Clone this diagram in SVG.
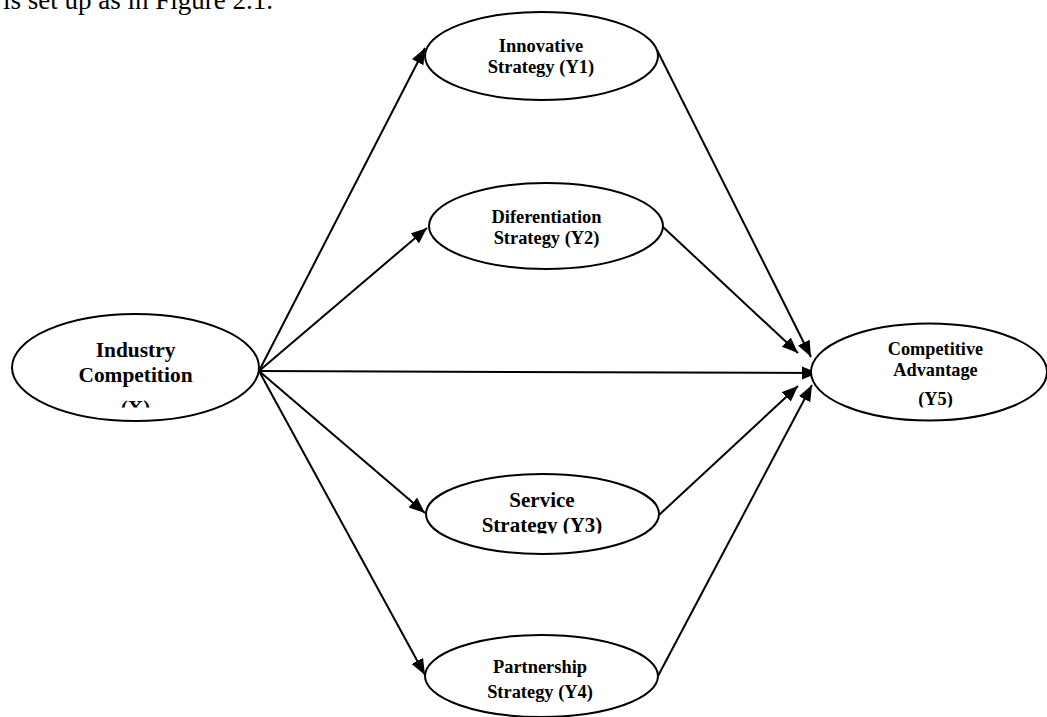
<svg xmlns="http://www.w3.org/2000/svg" width="1047" height="717" viewBox="0 0 1047 717">
<style>
.node ellipse{fill:#fff;stroke:#000;stroke-width:2}
.lbl{font-family:"Liberation Serif","Times New Roman",serif;font-weight:bold;text-anchor:middle;fill:#000}
.conn line{stroke:#000;stroke-width:2;marker-end:url(#arr)}
.body{font-family:"Liberation Serif","Times New Roman",serif;font-size:27px;fill:#000}
</style>
<defs>
<marker id="arr" markerUnits="userSpaceOnUse" markerWidth="18" markerHeight="14" refX="16" refY="6.5" orient="auto">
<path d="M0,0 L16,6.5 L0,13 z" fill="#000"/>
</marker>
<clipPath id="clipX"><rect x="0" y="300" width="270" height="107.5"/></clipPath>
<clipPath id="clipY3"><rect x="420" y="470" width="250" height="63.5"/></clipPath>
<clipPath id="clipY5"><rect x="800" y="320" width="247" height="87.5"/></clipPath>
</defs>
<text class="body" x="3" y="9">is set up as in Figure 2.1.</text>
<g class="conn" id="connectors">
<line x1="259" y1="371" x2="425" y2="48"/>
<line x1="259" y1="371" x2="427" y2="228"/>
<line x1="259" y1="371" x2="818" y2="373"/>
<line x1="259" y1="371" x2="425" y2="513"/>
<line x1="259" y1="371" x2="425" y2="675"/>
<line x1="657" y1="50" x2="811" y2="357"/>
<line x1="663" y1="227" x2="798" y2="353"/>
<line x1="659" y1="515" x2="798" y2="386"/>
<line x1="658" y1="676" x2="812" y2="385"/>
</g>
<g class="node" id="X">
<ellipse cx="135.5" cy="367.5" rx="123.5" ry="53.5"/>
<g clip-path="url(#clipX)" class="lbl" font-size="21.4">
<text x="135.5" y="357">Industry</text>
<text x="135.5" y="382">Competition</text>
<text x="135.5" y="415">(X)</text>
</g>
</g>
<g class="node" id="Y1">
<ellipse cx="541.5" cy="56" rx="116.5" ry="44"/>
<text class="lbl" font-size="18.5" x="541" y="52">Innovative</text>
<text class="lbl" font-size="18.5" x="541" y="73">Strategy (Y1)</text>
</g>
<g class="node" id="Y2">
<ellipse cx="546" cy="226" rx="117" ry="43"/>
<text class="lbl" font-size="18.4" x="546.5" y="223">Diferentiation</text>
<text class="lbl" font-size="18.4" x="546.5" y="243.5">Strategy (Y2)</text>
</g>
<g class="node" id="Y3">
<ellipse cx="542.5" cy="514" rx="116.5" ry="40"/>
<g clip-path="url(#clipY3)" class="lbl" font-size="21">
<text x="542" y="507">Service</text>
<text x="542" y="532">Strategy (Y3)</text>
</g>
</g>
<g class="node" id="Y4">
<ellipse cx="541.5" cy="676" rx="116.5" ry="41"/>
<text class="lbl" font-size="18.4" x="540" y="673">Partnership</text>
<text class="lbl" font-size="18.4" x="540" y="697.5">Strategy (Y4)</text>
</g>
<g class="node" id="Y5">
<ellipse cx="929" cy="372" rx="118" ry="48.5"/>
<g clip-path="url(#clipY5)" class="lbl" font-size="18.3">
<text x="935.5" y="355">Competitive</text>
<text x="935.5" y="376">Advantage</text>
<text x="935.5" y="405">(Y5)</text>
</g>
</g>
</svg>
